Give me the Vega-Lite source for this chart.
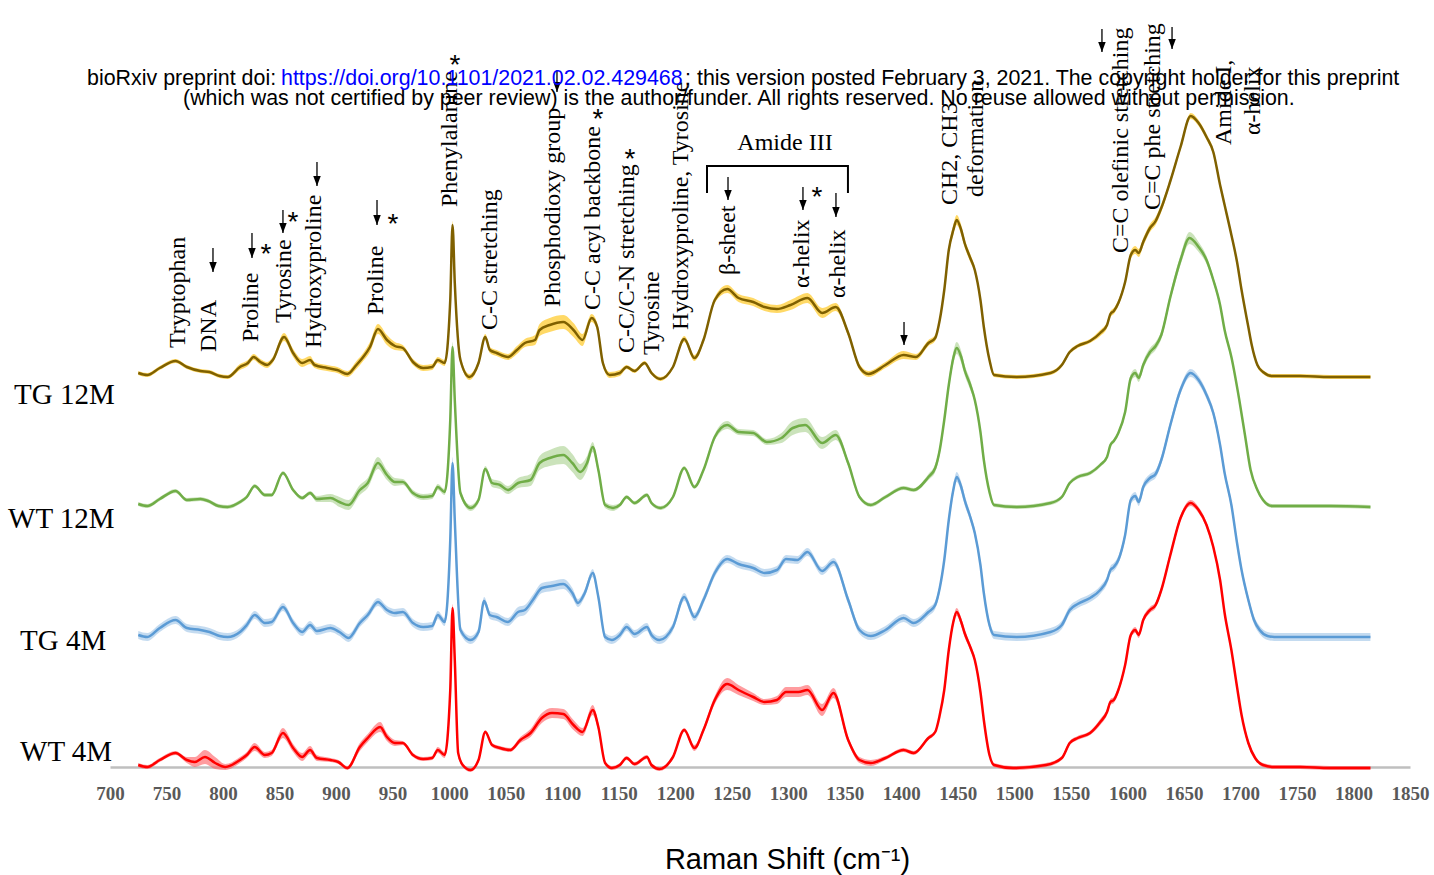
{
  "$schema": "https://vega.github.io/schema/vega-lite/v6.json",
  "width": 1300,
  "height": 767,
  "autosize": {"type": "none"},
  "padding": {"left": 110, "top": 0, "right": 24, "bottom": 108},
  "background": "white",
  "config": {"view": {"stroke": null}},
  "datasets": {
    "spectra": [
      {"s":"TG 12M","wn":725,"I":394,"sd":2},{"s":"TG 12M","wn":733,"I":392,"sd":2},{"s":"TG 12M","wn":744,"I":399,"sd":2},{"s":"TG 12M","wn":758,"I":406,"sd":2},{"s":"TG 12M","wn":768,"I":400,"sd":2},{"s":"TG 12M","wn":780,"I":396,"sd":2},{"s":"TG 12M","wn":788,"I":395,"sd":2},{"s":"TG 12M","wn":797,"I":391,"sd":2},{"s":"TG 12M","wn":804,"I":390,"sd":2},{"s":"TG 12M","wn":815,"I":400,"sd":3},{"s":"TG 12M","wn":822,"I":404,"sd":3},{"s":"TG 12M","wn":827,"I":410,"sd":3},{"s":"TG 12M","wn":833,"I":405,"sd":3},{"s":"TG 12M","wn":839,"I":402,"sd":3},{"s":"TG 12M","wn":844,"I":407,"sd":3},{"s":"TG 12M","wn":854,"I":430,"sd":4},{"s":"TG 12M","wn":862,"I":414,"sd":4},{"s":"TG 12M","wn":870,"I":404,"sd":4},{"s":"TG 12M","wn":877,"I":407,"sd":4},{"s":"TG 12M","wn":881,"I":402,"sd":3},{"s":"TG 12M","wn":892,"I":399,"sd":3},{"s":"TG 12M","wn":901,"I":397,"sd":3},{"s":"TG 12M","wn":910,"I":393,"sd":3},{"s":"TG 12M","wn":918,"I":402,"sd":4},{"s":"TG 12M","wn":924,"I":410,"sd":4},{"s":"TG 12M","wn":930,"I":420,"sd":5},{"s":"TG 12M","wn":937,"I":438,"sd":5},{"s":"TG 12M","wn":945,"I":427,"sd":5},{"s":"TG 12M","wn":952,"I":421,"sd":4},{"s":"TG 12M","wn":959,"I":419,"sd":3},{"s":"TG 12M","wn":968,"I":405,"sd":3},{"s":"TG 12M","wn":977,"I":399,"sd":3},{"s":"TG 12M","wn":985,"I":400,"sd":3},{"s":"TG 12M","wn":990,"I":407,"sd":3},{"s":"TG 12M","wn":996,"I":404,"sd":3},{"s":"TG 12M","wn":1001,"I":467,"sd":4},{"s":"TG 12M","wn":1003,"I":542,"sd":4},{"s":"TG 12M","wn":1005,"I":484,"sd":4},{"s":"TG 12M","wn":1010,"I":407,"sd":3},{"s":"TG 12M","wn":1018,"I":390,"sd":3},{"s":"TG 12M","wn":1026,"I":404,"sd":3},{"s":"TG 12M","wn":1032,"I":430,"sd":3},{"s":"TG 12M","wn":1036,"I":417,"sd":3},{"s":"TG 12M","wn":1042,"I":414,"sd":3},{"s":"TG 12M","wn":1052,"I":410,"sd":3},{"s":"TG 12M","wn":1060,"I":417,"sd":4},{"s":"TG 12M","wn":1067,"I":424,"sd":4},{"s":"TG 12M","wn":1076,"I":427,"sd":5},{"s":"TG 12M","wn":1080,"I":437,"sd":6},{"s":"TG 12M","wn":1089,"I":442,"sd":7},{"s":"TG 12M","wn":1101,"I":445,"sd":7},{"s":"TG 12M","wn":1110,"I":437,"sd":7},{"s":"TG 12M","wn":1118,"I":427,"sd":6},{"s":"TG 12M","wn":1126,"I":449,"sd":4},{"s":"TG 12M","wn":1131,"I":440,"sd":4},{"s":"TG 12M","wn":1136,"I":404,"sd":3},{"s":"TG 12M","wn":1142,"I":392,"sd":3},{"s":"TG 12M","wn":1151,"I":394,"sd":3},{"s":"TG 12M","wn":1157,"I":400,"sd":2},{"s":"TG 12M","wn":1164,"I":396,"sd":2},{"s":"TG 12M","wn":1173,"I":404,"sd":2},{"s":"TG 12M","wn":1179,"I":394,"sd":2},{"s":"TG 12M","wn":1187,"I":388,"sd":2},{"s":"TG 12M","wn":1198,"I":400,"sd":2},{"s":"TG 12M","wn":1208,"I":428,"sd":3},{"s":"TG 12M","wn":1217,"I":409,"sd":3},{"s":"TG 12M","wn":1225,"I":427,"sd":3},{"s":"TG 12M","wn":1235,"I":467,"sd":3},{"s":"TG 12M","wn":1246,"I":478,"sd":4},{"s":"TG 12M","wn":1256,"I":469,"sd":4},{"s":"TG 12M","wn":1269,"I":465,"sd":4},{"s":"TG 12M","wn":1279,"I":460,"sd":4},{"s":"TG 12M","wn":1290,"I":458,"sd":4},{"s":"TG 12M","wn":1302,"I":462,"sd":5},{"s":"TG 12M","wn":1317,"I":469,"sd":5},{"s":"TG 12M","wn":1330,"I":454,"sd":5},{"s":"TG 12M","wn":1342,"I":460,"sd":4},{"s":"TG 12M","wn":1353,"I":434,"sd":3},{"s":"TG 12M","wn":1363,"I":400,"sd":3},{"s":"TG 12M","wn":1371,"I":393,"sd":3},{"s":"TG 12M","wn":1386,"I":402,"sd":3},{"s":"TG 12M","wn":1402,"I":412,"sd":4},{"s":"TG 12M","wn":1413,"I":410,"sd":3},{"s":"TG 12M","wn":1424,"I":424,"sd":3},{"s":"TG 12M","wn":1430,"I":429,"sd":3},{"s":"TG 12M","wn":1434,"I":447,"sd":3},{"s":"TG 12M","wn":1438,"I":477,"sd":3},{"s":"TG 12M","wn":1442,"I":517,"sd":4},{"s":"TG 12M","wn":1446,"I":537,"sd":5},{"s":"TG 12M","wn":1449,"I":547,"sd":5},{"s":"TG 12M","wn":1453,"I":537,"sd":5},{"s":"TG 12M","wn":1456,"I":524,"sd":4},{"s":"TG 12M","wn":1461,"I":509,"sd":4},{"s":"TG 12M","wn":1465,"I":497,"sd":3},{"s":"TG 12M","wn":1470,"I":467,"sd":3},{"s":"TG 12M","wn":1473,"I":440,"sd":3},{"s":"TG 12M","wn":1478,"I":407,"sd":3},{"s":"TG 12M","wn":1482,"I":392,"sd":2},{"s":"TG 12M","wn":1502,"I":390,"sd":2},{"s":"TG 12M","wn":1532,"I":394,"sd":2},{"s":"TG 12M","wn":1542,"I":402,"sd":2},{"s":"TG 12M","wn":1549,"I":415,"sd":2},{"s":"TG 12M","wn":1556,"I":421,"sd":2},{"s":"TG 12M","wn":1567,"I":426,"sd":2},{"s":"TG 12M","wn":1576,"I":434,"sd":3},{"s":"TG 12M","wn":1582,"I":442,"sd":3},{"s":"TG 12M","wn":1585,"I":453,"sd":3},{"s":"TG 12M","wn":1588,"I":456,"sd":3},{"s":"TG 12M","wn":1592,"I":464,"sd":3},{"s":"TG 12M","wn":1598,"I":485,"sd":3},{"s":"TG 12M","wn":1603,"I":512,"sd":4},{"s":"TG 12M","wn":1607,"I":517,"sd":4},{"s":"TG 12M","wn":1610,"I":514,"sd":4},{"s":"TG 12M","wn":1614,"I":525,"sd":4},{"s":"TG 12M","wn":1620,"I":539,"sd":4},{"s":"TG 12M","wn":1625,"I":546,"sd":4},{"s":"TG 12M","wn":1630,"I":559,"sd":4},{"s":"TG 12M","wn":1638,"I":586,"sd":3},{"s":"TG 12M","wn":1647,"I":620,"sd":3},{"s":"TG 12M","wn":1656,"I":651,"sd":3},{"s":"TG 12M","wn":1663,"I":644,"sd":3},{"s":"TG 12M","wn":1670,"I":630,"sd":3},{"s":"TG 12M","wn":1676,"I":615,"sd":3},{"s":"TG 12M","wn":1682,"I":582,"sd":3},{"s":"TG 12M","wn":1686,"I":562,"sd":3},{"s":"TG 12M","wn":1692,"I":532,"sd":3},{"s":"TG 12M","wn":1697,"I":505,"sd":3},{"s":"TG 12M","wn":1701,"I":477,"sd":3},{"s":"TG 12M","wn":1707,"I":440,"sd":3},{"s":"TG 12M","wn":1710,"I":422,"sd":3},{"s":"TG 12M","wn":1715,"I":402,"sd":2},{"s":"TG 12M","wn":1720,"I":395,"sd":2},{"s":"TG 12M","wn":1728,"I":391,"sd":2},{"s":"TG 12M","wn":1753,"I":391,"sd":2},{"s":"TG 12M","wn":1779,"I":390,"sd":2},{"s":"TG 12M","wn":1815,"I":390,"sd":2},

      {"s":"WT 12M","wn":725,"I":263,"sd":2},{"s":"WT 12M","wn":733,"I":261,"sd":2},{"s":"WT 12M","wn":744,"I":268,"sd":2},{"s":"WT 12M","wn":758,"I":276,"sd":2},{"s":"WT 12M","wn":768,"I":267,"sd":2},{"s":"WT 12M","wn":780,"I":268,"sd":2},{"s":"WT 12M","wn":787,"I":266,"sd":2},{"s":"WT 12M","wn":796,"I":261,"sd":2},{"s":"WT 12M","wn":804,"I":260,"sd":2},{"s":"WT 12M","wn":815,"I":265,"sd":2},{"s":"WT 12M","wn":821,"I":270,"sd":2},{"s":"WT 12M","wn":828,"I":281,"sd":2},{"s":"WT 12M","wn":837,"I":272,"sd":2},{"s":"WT 12M","wn":843,"I":272,"sd":2},{"s":"WT 12M","wn":853,"I":294,"sd":2},{"s":"WT 12M","wn":862,"I":277,"sd":2},{"s":"WT 12M","wn":870,"I":269,"sd":2},{"s":"WT 12M","wn":877,"I":274,"sd":2},{"s":"WT 12M","wn":883,"I":268,"sd":3},{"s":"WT 12M","wn":895,"I":269,"sd":4},{"s":"WT 12M","wn":903,"I":265,"sd":5},{"s":"WT 12M","wn":911,"I":262,"sd":5},{"s":"WT 12M","wn":921,"I":277,"sd":5},{"s":"WT 12M","wn":928,"I":284,"sd":5},{"s":"WT 12M","wn":937,"I":304,"sd":6},{"s":"WT 12M","wn":945,"I":292,"sd":5},{"s":"WT 12M","wn":952,"I":285,"sd":4},{"s":"WT 12M","wn":959,"I":285,"sd":3},{"s":"WT 12M","wn":968,"I":274,"sd":3},{"s":"WT 12M","wn":977,"I":270,"sd":3},{"s":"WT 12M","wn":985,"I":271,"sd":3},{"s":"WT 12M","wn":990,"I":280,"sd":3},{"s":"WT 12M","wn":996,"I":275,"sd":3},{"s":"WT 12M","wn":1001,"I":347,"sd":4},{"s":"WT 12M","wn":1003,"I":420,"sd":5},{"s":"WT 12M","wn":1005,"I":367,"sd":4},{"s":"WT 12M","wn":1010,"I":274,"sd":3},{"s":"WT 12M","wn":1019,"I":259,"sd":3},{"s":"WT 12M","wn":1026,"I":267,"sd":3},{"s":"WT 12M","wn":1032,"I":298,"sd":3},{"s":"WT 12M","wn":1038,"I":284,"sd":4},{"s":"WT 12M","wn":1045,"I":282,"sd":4},{"s":"WT 12M","wn":1052,"I":277,"sd":4},{"s":"WT 12M","wn":1061,"I":284,"sd":5},{"s":"WT 12M","wn":1072,"I":287,"sd":6},{"s":"WT 12M","wn":1080,"I":304,"sd":7},{"s":"WT 12M","wn":1089,"I":309,"sd":8},{"s":"WT 12M","wn":1101,"I":312,"sd":9},{"s":"WT 12M","wn":1109,"I":304,"sd":9},{"s":"WT 12M","wn":1116,"I":295,"sd":8},{"s":"WT 12M","wn":1122,"I":304,"sd":7},{"s":"WT 12M","wn":1127,"I":320,"sd":5},{"s":"WT 12M","wn":1132,"I":297,"sd":4},{"s":"WT 12M","wn":1138,"I":262,"sd":3},{"s":"WT 12M","wn":1145,"I":259,"sd":3},{"s":"WT 12M","wn":1151,"I":262,"sd":2},{"s":"WT 12M","wn":1157,"I":270,"sd":2},{"s":"WT 12M","wn":1164,"I":264,"sd":2},{"s":"WT 12M","wn":1175,"I":272,"sd":2},{"s":"WT 12M","wn":1179,"I":264,"sd":2},{"s":"WT 12M","wn":1187,"I":259,"sd":2},{"s":"WT 12M","wn":1198,"I":270,"sd":2},{"s":"WT 12M","wn":1208,"I":299,"sd":2},{"s":"WT 12M","wn":1217,"I":280,"sd":2},{"s":"WT 12M","wn":1225,"I":297,"sd":2},{"s":"WT 12M","wn":1235,"I":330,"sd":3},{"s":"WT 12M","wn":1246,"I":342,"sd":4},{"s":"WT 12M","wn":1256,"I":335,"sd":3},{"s":"WT 12M","wn":1269,"I":334,"sd":3},{"s":"WT 12M","wn":1281,"I":325,"sd":3},{"s":"WT 12M","wn":1294,"I":329,"sd":5},{"s":"WT 12M","wn":1304,"I":339,"sd":7},{"s":"WT 12M","wn":1315,"I":342,"sd":7},{"s":"WT 12M","wn":1330,"I":324,"sd":6},{"s":"WT 12M","wn":1342,"I":332,"sd":5},{"s":"WT 12M","wn":1353,"I":304,"sd":3},{"s":"WT 12M","wn":1363,"I":270,"sd":2},{"s":"WT 12M","wn":1373,"I":262,"sd":2},{"s":"WT 12M","wn":1386,"I":270,"sd":2},{"s":"WT 12M","wn":1402,"I":279,"sd":2},{"s":"WT 12M","wn":1411,"I":277,"sd":2},{"s":"WT 12M","wn":1424,"I":290,"sd":3},{"s":"WT 12M","wn":1430,"I":299,"sd":4},{"s":"WT 12M","wn":1434,"I":317,"sd":4},{"s":"WT 12M","wn":1438,"I":347,"sd":4},{"s":"WT 12M","wn":1442,"I":382,"sd":5},{"s":"WT 12M","wn":1446,"I":409,"sd":6},{"s":"WT 12M","wn":1449,"I":419,"sd":6},{"s":"WT 12M","wn":1453,"I":410,"sd":6},{"s":"WT 12M","wn":1456,"I":397,"sd":5},{"s":"WT 12M","wn":1461,"I":382,"sd":5},{"s":"WT 12M","wn":1465,"I":367,"sd":3},{"s":"WT 12M","wn":1470,"I":335,"sd":3},{"s":"WT 12M","wn":1473,"I":307,"sd":3},{"s":"WT 12M","wn":1478,"I":275,"sd":2},{"s":"WT 12M","wn":1482,"I":262,"sd":2},{"s":"WT 12M","wn":1502,"I":260,"sd":2},{"s":"WT 12M","wn":1532,"I":264,"sd":2},{"s":"WT 12M","wn":1542,"I":270,"sd":2},{"s":"WT 12M","wn":1549,"I":284,"sd":2},{"s":"WT 12M","wn":1556,"I":290,"sd":2},{"s":"WT 12M","wn":1567,"I":294,"sd":2},{"s":"WT 12M","wn":1576,"I":302,"sd":2},{"s":"WT 12M","wn":1582,"I":310,"sd":2},{"s":"WT 12M","wn":1585,"I":322,"sd":2},{"s":"WT 12M","wn":1588,"I":326,"sd":2},{"s":"WT 12M","wn":1592,"I":334,"sd":2},{"s":"WT 12M","wn":1598,"I":355,"sd":3},{"s":"WT 12M","wn":1603,"I":389,"sd":4},{"s":"WT 12M","wn":1607,"I":394,"sd":4},{"s":"WT 12M","wn":1610,"I":389,"sd":4},{"s":"WT 12M","wn":1614,"I":402,"sd":4},{"s":"WT 12M","wn":1620,"I":415,"sd":4},{"s":"WT 12M","wn":1625,"I":421,"sd":4},{"s":"WT 12M","wn":1630,"I":432,"sd":4},{"s":"WT 12M","wn":1638,"I":470,"sd":4},{"s":"WT 12M","wn":1647,"I":507,"sd":5},{"s":"WT 12M","wn":1655,"I":529,"sd":6},{"s":"WT 12M","wn":1663,"I":520,"sd":5},{"s":"WT 12M","wn":1670,"I":507,"sd":4},{"s":"WT 12M","wn":1676,"I":487,"sd":3},{"s":"WT 12M","wn":1682,"I":462,"sd":3},{"s":"WT 12M","wn":1686,"I":437,"sd":3},{"s":"WT 12M","wn":1692,"I":410,"sd":3},{"s":"WT 12M","wn":1699,"I":367,"sd":2},{"s":"WT 12M","wn":1704,"I":332,"sd":2},{"s":"WT 12M","wn":1709,"I":297,"sd":2},{"s":"WT 12M","wn":1715,"I":277,"sd":2},{"s":"WT 12M","wn":1720,"I":267,"sd":2},{"s":"WT 12M","wn":1728,"I":261,"sd":2},{"s":"WT 12M","wn":1753,"I":261,"sd":2},{"s":"WT 12M","wn":1779,"I":261,"sd":2},{"s":"WT 12M","wn":1815,"I":260,"sd":2},

      {"s":"TG 4M","wn":725,"I":132,"sd":4},{"s":"TG 4M","wn":733,"I":130,"sd":4},{"s":"TG 4M","wn":744,"I":139,"sd":4},{"s":"TG 4M","wn":758,"I":147,"sd":4},{"s":"TG 4M","wn":768,"I":139,"sd":4},{"s":"TG 4M","wn":780,"I":137,"sd":4},{"s":"TG 4M","wn":788,"I":135,"sd":4},{"s":"TG 4M","wn":797,"I":131,"sd":4},{"s":"TG 4M","wn":804,"I":130,"sd":4},{"s":"TG 4M","wn":815,"I":135,"sd":4},{"s":"TG 4M","wn":821,"I":142,"sd":4},{"s":"TG 4M","wn":828,"I":152,"sd":4},{"s":"TG 4M","wn":837,"I":144,"sd":4},{"s":"TG 4M","wn":843,"I":145,"sd":4},{"s":"TG 4M","wn":853,"I":160,"sd":4},{"s":"TG 4M","wn":862,"I":144,"sd":4},{"s":"TG 4M","wn":870,"I":135,"sd":4},{"s":"TG 4M","wn":877,"I":142,"sd":4},{"s":"TG 4M","wn":883,"I":136,"sd":4},{"s":"TG 4M","wn":895,"I":139,"sd":4},{"s":"TG 4M","wn":903,"I":135,"sd":4},{"s":"TG 4M","wn":911,"I":129,"sd":4},{"s":"TG 4M","wn":921,"I":144,"sd":4},{"s":"TG 4M","wn":928,"I":152,"sd":4},{"s":"TG 4M","wn":937,"I":165,"sd":4},{"s":"TG 4M","wn":945,"I":157,"sd":4},{"s":"TG 4M","wn":952,"I":154,"sd":4},{"s":"TG 4M","wn":959,"I":155,"sd":4},{"s":"TG 4M","wn":968,"I":144,"sd":4},{"s":"TG 4M","wn":977,"I":140,"sd":4},{"s":"TG 4M","wn":985,"I":141,"sd":4},{"s":"TG 4M","wn":990,"I":152,"sd":4},{"s":"TG 4M","wn":996,"I":145,"sd":4},{"s":"TG 4M","wn":1001,"I":227,"sd":5},{"s":"TG 4M","wn":1003,"I":304,"sd":6},{"s":"TG 4M","wn":1005,"I":247,"sd":5},{"s":"TG 4M","wn":1010,"I":137,"sd":4},{"s":"TG 4M","wn":1019,"I":127,"sd":4},{"s":"TG 4M","wn":1026,"I":135,"sd":4},{"s":"TG 4M","wn":1031,"I":166,"sd":4},{"s":"TG 4M","wn":1036,"I":152,"sd":4},{"s":"TG 4M","wn":1042,"I":150,"sd":4},{"s":"TG 4M","wn":1052,"I":145,"sd":4},{"s":"TG 4M","wn":1061,"I":155,"sd":5},{"s":"TG 4M","wn":1067,"I":157,"sd":5},{"s":"TG 4M","wn":1074,"I":167,"sd":5},{"s":"TG 4M","wn":1082,"I":179,"sd":5},{"s":"TG 4M","wn":1091,"I":181,"sd":5},{"s":"TG 4M","wn":1101,"I":183,"sd":5},{"s":"TG 4M","wn":1109,"I":174,"sd":5},{"s":"TG 4M","wn":1114,"I":164,"sd":4},{"s":"TG 4M","wn":1120,"I":174,"sd":4},{"s":"TG 4M","wn":1127,"I":194,"sd":4},{"s":"TG 4M","wn":1132,"I":170,"sd":4},{"s":"TG 4M","wn":1138,"I":130,"sd":4},{"s":"TG 4M","wn":1144,"I":127,"sd":4},{"s":"TG 4M","wn":1151,"I":132,"sd":4},{"s":"TG 4M","wn":1157,"I":140,"sd":4},{"s":"TG 4M","wn":1164,"I":133,"sd":4},{"s":"TG 4M","wn":1175,"I":140,"sd":4},{"s":"TG 4M","wn":1179,"I":132,"sd":4},{"s":"TG 4M","wn":1186,"I":127,"sd":4},{"s":"TG 4M","wn":1198,"I":140,"sd":4},{"s":"TG 4M","wn":1208,"I":170,"sd":4},{"s":"TG 4M","wn":1217,"I":150,"sd":4},{"s":"TG 4M","wn":1225,"I":167,"sd":4},{"s":"TG 4M","wn":1235,"I":194,"sd":4},{"s":"TG 4M","wn":1246,"I":208,"sd":4},{"s":"TG 4M","wn":1256,"I":203,"sd":4},{"s":"TG 4M","wn":1269,"I":199,"sd":4},{"s":"TG 4M","wn":1279,"I":194,"sd":4},{"s":"TG 4M","wn":1290,"I":197,"sd":4},{"s":"TG 4M","wn":1298,"I":208,"sd":4},{"s":"TG 4M","wn":1308,"I":207,"sd":4},{"s":"TG 4M","wn":1317,"I":215,"sd":4},{"s":"TG 4M","wn":1330,"I":196,"sd":4},{"s":"TG 4M","wn":1340,"I":205,"sd":4},{"s":"TG 4M","wn":1353,"I":167,"sd":4},{"s":"TG 4M","wn":1363,"I":137,"sd":4},{"s":"TG 4M","wn":1373,"I":131,"sd":4},{"s":"TG 4M","wn":1386,"I":137,"sd":4},{"s":"TG 4M","wn":1402,"I":149,"sd":4},{"s":"TG 4M","wn":1411,"I":144,"sd":4},{"s":"TG 4M","wn":1424,"I":155,"sd":4},{"s":"TG 4M","wn":1430,"I":162,"sd":4},{"s":"TG 4M","wn":1434,"I":179,"sd":4},{"s":"TG 4M","wn":1438,"I":207,"sd":4},{"s":"TG 4M","wn":1442,"I":247,"sd":5},{"s":"TG 4M","wn":1446,"I":277,"sd":5},{"s":"TG 4M","wn":1449,"I":290,"sd":5},{"s":"TG 4M","wn":1453,"I":280,"sd":5},{"s":"TG 4M","wn":1456,"I":267,"sd":5},{"s":"TG 4M","wn":1461,"I":250,"sd":4},{"s":"TG 4M","wn":1465,"I":234,"sd":4},{"s":"TG 4M","wn":1470,"I":202,"sd":4},{"s":"TG 4M","wn":1473,"I":174,"sd":4},{"s":"TG 4M","wn":1478,"I":142,"sd":4},{"s":"TG 4M","wn":1482,"I":132,"sd":4},{"s":"TG 4M","wn":1502,"I":130,"sd":4},{"s":"TG 4M","wn":1532,"I":135,"sd":4},{"s":"TG 4M","wn":1542,"I":142,"sd":4},{"s":"TG 4M","wn":1549,"I":157,"sd":4},{"s":"TG 4M","wn":1556,"I":163,"sd":4},{"s":"TG 4M","wn":1567,"I":169,"sd":4},{"s":"TG 4M","wn":1576,"I":177,"sd":4},{"s":"TG 4M","wn":1582,"I":187,"sd":4},{"s":"TG 4M","wn":1585,"I":197,"sd":4},{"s":"TG 4M","wn":1588,"I":200,"sd":4},{"s":"TG 4M","wn":1592,"I":207,"sd":4},{"s":"TG 4M","wn":1598,"I":232,"sd":4},{"s":"TG 4M","wn":1603,"I":267,"sd":4},{"s":"TG 4M","wn":1607,"I":271,"sd":4},{"s":"TG 4M","wn":1610,"I":265,"sd":4},{"s":"TG 4M","wn":1614,"I":280,"sd":4},{"s":"TG 4M","wn":1620,"I":289,"sd":4},{"s":"TG 4M","wn":1625,"I":293,"sd":4},{"s":"TG 4M","wn":1630,"I":307,"sd":4},{"s":"TG 4M","wn":1638,"I":342,"sd":4},{"s":"TG 4M","wn":1647,"I":377,"sd":4},{"s":"TG 4M","wn":1656,"I":394,"sd":4},{"s":"TG 4M","wn":1663,"I":387,"sd":4},{"s":"TG 4M","wn":1670,"I":372,"sd":4},{"s":"TG 4M","wn":1676,"I":354,"sd":4},{"s":"TG 4M","wn":1682,"I":322,"sd":4},{"s":"TG 4M","wn":1686,"I":294,"sd":4},{"s":"TG 4M","wn":1692,"I":262,"sd":4},{"s":"TG 4M","wn":1697,"I":224,"sd":4},{"s":"TG 4M","wn":1701,"I":197,"sd":4},{"s":"TG 4M","wn":1707,"I":167,"sd":4},{"s":"TG 4M","wn":1712,"I":147,"sd":4},{"s":"TG 4M","wn":1717,"I":137,"sd":4},{"s":"TG 4M","wn":1724,"I":131,"sd":4},{"s":"TG 4M","wn":1730,"I":130,"sd":4},{"s":"TG 4M","wn":1753,"I":130,"sd":4},{"s":"TG 4M","wn":1779,"I":130,"sd":4},{"s":"TG 4M","wn":1815,"I":130,"sd":4},

      {"s":"WT 4M","wn":725,"I":2,"sd":2},{"s":"WT 4M","wn":733,"I":0,"sd":2},{"s":"WT 4M","wn":744,"I":7,"sd":2},{"s":"WT 4M","wn":758,"I":14,"sd":2},{"s":"WT 4M","wn":768,"I":7,"sd":3},{"s":"WT 4M","wn":775,"I":5,"sd":5},{"s":"WT 4M","wn":784,"I":10,"sd":7},{"s":"WT 4M","wn":793,"I":4,"sd":6},{"s":"WT 4M","wn":802,"I":0,"sd":3},{"s":"WT 4M","wn":815,"I":7,"sd":3},{"s":"WT 4M","wn":821,"I":12,"sd":3},{"s":"WT 4M","wn":828,"I":20,"sd":4},{"s":"WT 4M","wn":837,"I":12,"sd":3},{"s":"WT 4M","wn":843,"I":14,"sd":3},{"s":"WT 4M","wn":853,"I":34,"sd":5},{"s":"WT 4M","wn":862,"I":19,"sd":4},{"s":"WT 4M","wn":870,"I":10,"sd":4},{"s":"WT 4M","wn":877,"I":17,"sd":4},{"s":"WT 4M","wn":883,"I":9,"sd":3},{"s":"WT 4M","wn":895,"I":7,"sd":2},{"s":"WT 4M","wn":902,"I":5,"sd":2},{"s":"WT 4M","wn":910,"I":-1,"sd":2},{"s":"WT 4M","wn":921,"I":20,"sd":4},{"s":"WT 4M","wn":928,"I":29,"sd":4},{"s":"WT 4M","wn":939,"I":40,"sd":5},{"s":"WT 4M","wn":945,"I":30,"sd":4},{"s":"WT 4M","wn":952,"I":24,"sd":3},{"s":"WT 4M","wn":959,"I":24,"sd":2},{"s":"WT 4M","wn":968,"I":12,"sd":2},{"s":"WT 4M","wn":977,"I":8,"sd":2},{"s":"WT 4M","wn":985,"I":9,"sd":2},{"s":"WT 4M","wn":990,"I":17,"sd":3},{"s":"WT 4M","wn":996,"I":12,"sd":3},{"s":"WT 4M","wn":1001,"I":77,"sd":3},{"s":"WT 4M","wn":1003,"I":159,"sd":4},{"s":"WT 4M","wn":1005,"I":107,"sd":3},{"s":"WT 4M","wn":1008,"I":14,"sd":3},{"s":"WT 4M","wn":1012,"I":2,"sd":2},{"s":"WT 4M","wn":1019,"I":-3,"sd":2},{"s":"WT 4M","wn":1026,"I":7,"sd":2},{"s":"WT 4M","wn":1032,"I":35,"sd":2},{"s":"WT 4M","wn":1038,"I":22,"sd":2},{"s":"WT 4M","wn":1045,"I":19,"sd":2},{"s":"WT 4M","wn":1054,"I":17,"sd":2},{"s":"WT 4M","wn":1063,"I":27,"sd":3},{"s":"WT 4M","wn":1072,"I":34,"sd":4},{"s":"WT 4M","wn":1082,"I":49,"sd":5},{"s":"WT 4M","wn":1091,"I":54,"sd":5},{"s":"WT 4M","wn":1101,"I":53,"sd":5},{"s":"WT 4M","wn":1110,"I":42,"sd":5},{"s":"WT 4M","wn":1118,"I":35,"sd":4},{"s":"WT 4M","wn":1127,"I":57,"sd":5},{"s":"WT 4M","wn":1132,"I":40,"sd":4},{"s":"WT 4M","wn":1138,"I":4,"sd":2},{"s":"WT 4M","wn":1144,"I":-1,"sd":2},{"s":"WT 4M","wn":1151,"I":2,"sd":2},{"s":"WT 4M","wn":1157,"I":9,"sd":2},{"s":"WT 4M","wn":1164,"I":3,"sd":2},{"s":"WT 4M","wn":1175,"I":10,"sd":2},{"s":"WT 4M","wn":1179,"I":2,"sd":2},{"s":"WT 4M","wn":1186,"I":-2,"sd":2},{"s":"WT 4M","wn":1198,"I":10,"sd":2},{"s":"WT 4M","wn":1208,"I":37,"sd":2},{"s":"WT 4M","wn":1217,"I":19,"sd":3},{"s":"WT 4M","wn":1225,"I":37,"sd":3},{"s":"WT 4M","wn":1235,"I":67,"sd":4},{"s":"WT 4M","wn":1246,"I":83,"sd":6},{"s":"WT 4M","wn":1256,"I":77,"sd":5},{"s":"WT 4M","wn":1269,"I":70,"sd":4},{"s":"WT 4M","wn":1279,"I":65,"sd":3},{"s":"WT 4M","wn":1290,"I":67,"sd":4},{"s":"WT 4M","wn":1298,"I":75,"sd":5},{"s":"WT 4M","wn":1309,"I":75,"sd":5},{"s":"WT 4M","wn":1317,"I":77,"sd":5},{"s":"WT 4M","wn":1330,"I":57,"sd":6},{"s":"WT 4M","wn":1340,"I":74,"sd":5},{"s":"WT 4M","wn":1353,"I":27,"sd":3},{"s":"WT 4M","wn":1363,"I":7,"sd":3},{"s":"WT 4M","wn":1373,"I":4,"sd":3},{"s":"WT 4M","wn":1386,"I":9,"sd":2},{"s":"WT 4M","wn":1402,"I":17,"sd":2},{"s":"WT 4M","wn":1411,"I":14,"sd":2},{"s":"WT 4M","wn":1424,"I":29,"sd":2},{"s":"WT 4M","wn":1430,"I":35,"sd":2},{"s":"WT 4M","wn":1434,"I":52,"sd":2},{"s":"WT 4M","wn":1438,"I":77,"sd":3},{"s":"WT 4M","wn":1442,"I":117,"sd":4},{"s":"WT 4M","wn":1446,"I":145,"sd":4},{"s":"WT 4M","wn":1449,"I":155,"sd":4},{"s":"WT 4M","wn":1453,"I":145,"sd":4},{"s":"WT 4M","wn":1456,"I":134,"sd":4},{"s":"WT 4M","wn":1461,"I":120,"sd":3},{"s":"WT 4M","wn":1465,"I":107,"sd":3},{"s":"WT 4M","wn":1470,"I":75,"sd":3},{"s":"WT 4M","wn":1473,"I":47,"sd":3},{"s":"WT 4M","wn":1478,"I":12,"sd":2},{"s":"WT 4M","wn":1482,"I":2,"sd":2},{"s":"WT 4M","wn":1499,"I":-1,"sd":2},{"s":"WT 4M","wn":1528,"I":2,"sd":2},{"s":"WT 4M","wn":1542,"I":9,"sd":2},{"s":"WT 4M","wn":1549,"I":24,"sd":2},{"s":"WT 4M","wn":1556,"I":29,"sd":2},{"s":"WT 4M","wn":1567,"I":34,"sd":2},{"s":"WT 4M","wn":1576,"I":45,"sd":3},{"s":"WT 4M","wn":1582,"I":55,"sd":3},{"s":"WT 4M","wn":1585,"I":65,"sd":3},{"s":"WT 4M","wn":1588,"I":67,"sd":3},{"s":"WT 4M","wn":1592,"I":77,"sd":3},{"s":"WT 4M","wn":1598,"I":102,"sd":3},{"s":"WT 4M","wn":1603,"I":132,"sd":3},{"s":"WT 4M","wn":1607,"I":137,"sd":3},{"s":"WT 4M","wn":1610,"I":132,"sd":3},{"s":"WT 4M","wn":1614,"I":147,"sd":3},{"s":"WT 4M","wn":1620,"I":157,"sd":3},{"s":"WT 4M","wn":1625,"I":162,"sd":3},{"s":"WT 4M","wn":1630,"I":177,"sd":3},{"s":"WT 4M","wn":1638,"I":212,"sd":3},{"s":"WT 4M","wn":1647,"I":249,"sd":3},{"s":"WT 4M","wn":1656,"I":264,"sd":3},{"s":"WT 4M","wn":1663,"I":257,"sd":3},{"s":"WT 4M","wn":1670,"I":242,"sd":3},{"s":"WT 4M","wn":1676,"I":220,"sd":3},{"s":"WT 4M","wn":1682,"I":187,"sd":3},{"s":"WT 4M","wn":1686,"I":154,"sd":3},{"s":"WT 4M","wn":1692,"I":117,"sd":3},{"s":"WT 4M","wn":1697,"I":80,"sd":3},{"s":"WT 4M","wn":1701,"I":52,"sd":3},{"s":"WT 4M","wn":1707,"I":24,"sd":3},{"s":"WT 4M","wn":1713,"I":9,"sd":2},{"s":"WT 4M","wn":1720,"I":2,"sd":2},{"s":"WT 4M","wn":1730,"I":0,"sd":2},{"s":"WT 4M","wn":1753,"I":0,"sd":2},{"s":"WT 4M","wn":1779,"I":-1,"sd":2},{"s":"WT 4M","wn":1815,"I":-1,"sd":2}
    ],
    "bandNames": [
      {"label":"Tryptophan","wn":760.2,"I":419},
      {"label":"DNA","wn":787.6,"I":415},
      {"label":"Proline","wn":824.7,"I":425},
      {"label":"Tyrosine","wn":853.9,"I":444},
      {"label":"Hydroxyproline","wn":880.5,"I":419},
      {"label":"Proline","wn":935.3,"I":452},
      {"label":"Phenylalanine","wn":1000.8,"I":560},
      {"label":"C-C stretching","wn":1036.2,"I":437},
      {"label":"Phosphodioxy group","wn":1091.9,"I":460},
      {"label":"C-C acyl backbone","wn":1127.3,"I":457},
      {"label":"C-C/C-N stretching","wn":1157.3,"I":414},
      {"label":"Tyrosine","wn":1179.5,"I":412},
      {"label":"Hydroxyproline, Tyrosine","wn":1205.1,"I":437},
      {"label":"β-sheet","wn":1246.7,"I":492},
      {"label":"α-helix","wn":1312.2,"I":479},
      {"label":"α-helix","wn":1344.0,"I":469},
      {"label":"CH2, CH3","wn":1443.1,"I":562},
      {"label":"deformation","wn":1466.1,"I":570},
      {"label":"C=C olefinic stretching","wn":1594.3,"I":514},
      {"label":"C=C phe stretching","wn":1622.6,"I":557},
      {"label":"Amide I,","wn":1685.5,"I":622},
      {"label":"α-helix","wn":1711.1,"I":632}
    ],
    "arrows": [
      {"wn":791.1,"I":519,"I2":495},
      {"wn":825.6,"I":534,"I2":509},
      {"wn":853.0,"I":557,"I2":534},
      {"wn":883.1,"I":605,"I2":581},
      {"wn":936.2,"I":567,"I2":542},
      {"wn":1095.4,"I":697,"I2":675},
      {"wn":1246.7,"I":590,"I2":567},
      {"wn":1313.0,"I":580,"I2":557},
      {"wn":1342.2,"I":574,"I2":550},
      {"wn":1402.4,"I":445,"I2":422},
      {"wn":1577.5,"I":738,"I2":715},
      {"wn":1639.5,"I":740,"I2":718}
    ],
    "stars": [
      {"wn":838.0,"I":520},
      {"wn":861.9,"I":552},
      {"wn":950.3,"I":550},
      {"wn":1005.2,"I":709},
      {"wn":1131.7,"I":655},
      {"wn":1160.0,"I":615},
      {"wn":1325.4,"I":577}
    ],
    "bracket": [
      {"wn":1228.1,"wn2":1352.8,"I":601,"I2":601},
      {"wn":1228.1,"wn2":1228.1,"I":602,"I2":574},
      {"wn":1352.8,"wn2":1352.8,"I":602,"I2":574}
    ],
    "groupTitle": [
      {"label":"Amide III","wn":1297.1,"I":624}
    ],
    "groups": [
      {"label":"TG 12M","wn":615.1,"I":372},
      {"label":"WT 12M","wn":609.8,"I":248},
      {"label":"TG 4M","wn":620.4,"I":126},
      {"label":"WT 4M","wn":620.4,"I":15}
    ],
    "notice": [
      {"label":"bioRxiv preprint doi:","wn":679.7,"I":682},
      {"label":"; this version posted February 3, 2021. The copyright holder for this preprint","wn":1208.7,"I":682},
      {"label":"(which was not certified by peer review) is the author/funder. All rights reserved. No reuse allowed without permission.","wn":764.6,"I":662}
    ],
    "doi": [
      {"label":"https://doi.org/10.1101/2021.02.02.429468","wn":851.3,"I":682}
    ]
  },
  "encoding": {
    "x": {
      "field": "wn",
      "type": "quantitative",
      "scale": {"domain": [700, 1850], "nice": false, "zero": false},
      "axis": {
        "values": [700,750,800,850,900,950,1000,1050,1100,1150,1200,1250,1300,1350,1400,1450,1500,1550,1600,1650,1700,1750,1800,1850],
        "format": "d",
        "title": "Raman Shift (cm⁻¹)",
        "grid": false,
        "ticks": false,
        "domainColor": "#bfbfbf",
        "domainWidth": 2.3,
        "labelFont": "Liberation Serif",
        "labelFontWeight": "bold",
        "labelFontSize": 19,
        "labelColor": "#595959",
        "labelPadding": 17,
        "labelFlush": false,
        "labelOverlap": false,
        "titleFont": "Liberation Sans",
        "titleFontSize": 29,
        "titleFontWeight": "normal",
        "titleColor": "black",
        "titleX": 677,
        "titleY": 101,
        "titleAlign": "center",
        "titleBaseline": "alphabetic"
      }
    },
    "y": {
      "field": "I",
      "type": "quantitative",
      "scale": {"domain": [0, 767], "nice": false, "zero": false},
      "axis": null
    }
  },
  "layer": [
    {
      "data": {"name": "spectra"},
      "mark": {"type": "errorband", "interpolate": "monotone", "opacity": 0.6},
      "encoding": {
        "yError": {"field": "sd"},
        "color": {
          "field": "s",
          "type": "nominal",
          "scale": {"domain": ["TG 12M","WT 12M","TG 4M","WT 4M"], "range": ["#ffc000","#a9d18e","#9dc3e6","#ff5a5f"]},
          "legend": null
        }
      }
    },
    {
      "data": {"name": "spectra"},
      "mark": {"type": "line", "interpolate": "monotone", "strokeWidth": 2.5},
      "encoding": {
        "color": {
          "field": "s",
          "type": "nominal",
          "scale": {"domain": ["TG 12M","WT 12M","TG 4M","WT 4M"], "range": ["#7f6000","#70ad47","#5b9bd5","#ff0000"]},
          "legend": null
        }
      }
    },
    {
      "data": {"name": "bandNames"},
      "mark": {"type": "text", "angle": 270, "align": "left", "baseline": "middle", "font": "Liberation Serif", "fontSize": 24, "color": "black"},
      "encoding": {"text": {"field": "label"}}
    },
    {
      "data": {"name": "arrows"},
      "mark": {"type": "rule", "color": "black", "strokeWidth": 1.3},
      "encoding": {"y2": {"field": "I2"}}
    },
    {
      "data": {"name": "arrows"},
      "mark": {"type": "point", "shape": "M-0.75,-1L0.75,-1L0,1Z", "filled": true, "color": "black", "opacity": 1, "size": 100, "yOffset": -5},
      "encoding": {"y": {"field": "I2", "type": "quantitative"}}
    },
    {
      "data": {"name": "stars"},
      "mark": {"type": "text", "text": "*", "font": "Liberation Sans", "fontSize": 28, "align": "center", "baseline": "alphabetic", "dy": 16, "color": "black"}
    },
    {
      "data": {"name": "bracket"},
      "mark": {"type": "rule", "color": "black", "strokeWidth": 2},
      "encoding": {"x2": {"field": "wn2"}, "y2": {"field": "I2"}}
    },
    {
      "data": {"name": "groupTitle"},
      "mark": {"type": "text", "font": "Liberation Serif", "fontSize": 24, "align": "center", "baseline": "middle", "color": "black"},
      "encoding": {"text": {"field": "label"}}
    },
    {
      "data": {"name": "groups"},
      "mark": {"type": "text", "font": "Liberation Serif", "fontSize": 29, "align": "left", "baseline": "middle", "color": "black"},
      "encoding": {"text": {"field": "label"}}
    },
    {
      "data": {"name": "notice"},
      "mark": {"type": "text", "font": "Liberation Sans", "fontSize": 21.4, "align": "left", "baseline": "alphabetic", "color": "black"},
      "encoding": {"text": {"field": "label"}}
    },
    {
      "data": {"name": "doi"},
      "mark": {"type": "text", "font": "Liberation Sans", "fontSize": 21.4, "align": "left", "baseline": "alphabetic", "color": "#0000ff"},
      "encoding": {"text": {"field": "label"}}
    }
  ],
  "resolve": {"scale": {"color": "independent"}}
}
